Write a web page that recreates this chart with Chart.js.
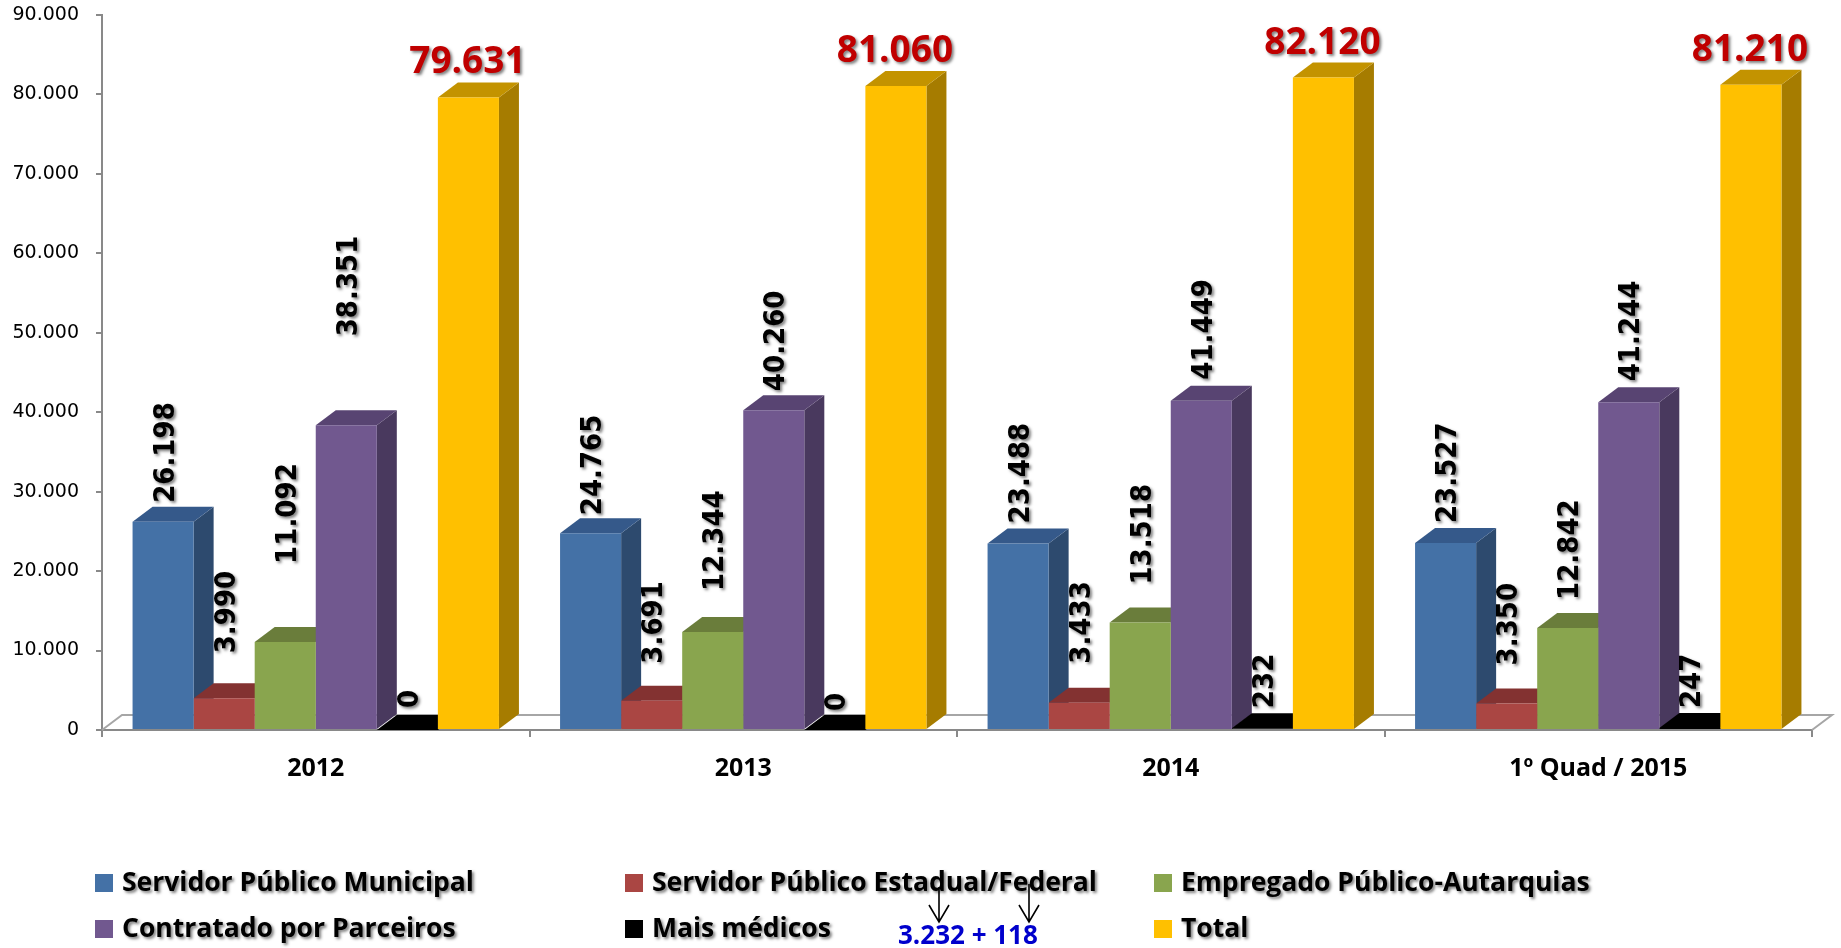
<!DOCTYPE html>
<html>
<head>
<meta charset="utf-8">
<script src="https://cdn.jsdelivr.net/npm/chart.js@4.4.1/dist/chart.umd.min.js"></script>
<style>
  body { margin: 0; background: #fff; }
  #wrap { position: relative; width: 1841px; height: 948px; overflow: hidden; }
  .leg { position: absolute; font: bold 26.5px "Open Sans", sans-serif; color: #000;
         text-shadow: 2px 2px 3px rgba(0,0,0,0.5); white-space: nowrap; line-height: 30px; }
  .leg i { display: inline-block; width: 18px; height: 18px; margin-right: 9px; vertical-align: -1px; }
  .note { position: absolute; left: 898px; top: 916px; font: bold 26px "Open Sans", sans-serif;
          color: #0000cc; white-space: nowrap; }
</style>
</head>
<body>
<div id="wrap">
  <canvas id="chart" width="1841" height="948"></canvas>
  <div id="legend"></div>
  <svg style="position:absolute;left:0;top:0" width="1841" height="948">
    <g stroke="#000" stroke-width="1.6" fill="none">
      <path d="M939 887 V922 M929 905 L939 922 L949 905"/>
      <path d="M1029 884 V922 M1019 905 L1029 922 L1039 905"/>
    </g>
  </svg>
  <div class="note">3.232 + 118</div>
</div>
<script>
const categories = ["2012", "2013", "2014", "1º Quad / 2015"];
const seriesNames = ["Servidor Público Municipal", "Servidor Público Estadual/Federal",
  "Empregado Público-Autarquias", "Contratado por Parceiros", "Mais médicos", "Total"];

const municipal = [26198, 24765, 23488, 23527];
const estadualFederal = [3990, 3691, 3433, 3350];
const autarquias = [11092, 12344, 13518, 12842];
const parceiros = [38351, 40260, 41449, 41244];
const maisMedicos = [0, 0, 232, 247];
const total = [79631, 81060, 82120, 81210];

const yMin = 0, yMax = 90000, yStep = 10000;

// colours: front, top, side
const fronts = ["#4471a6", "#aa4643", "#89a54e", "#71588f", "#000000", "#ffc000"];
const tops   = ["#35598a", "#833231", "#6a7d3b", "#584472", "#000000", "#c39300"];
const sides  = ["#2d4a6e", "#7a2e2c", "#5e7235", "#49395e", "#000000", "#a67c00"];

// extra lift of the rotated labels above each bar (px), as in the original slide
const labelGap = [
  [2, 1, 3, 3],
  [28, 20, 22, 21],
  [61, 24, 21, 11],
  [72, 2, 4, 4],
  [5, 2, 3, 3]
];

const DX = 20, DY = 15;

function fmt(v) {
  return String(v).replace(/\B(?=(\d{3})+(?!\d))/g, ".");
}

function poly(ctx, pts, color) {
  ctx.fillStyle = color;
  ctx.beginPath();
  ctx.moveTo(pts[0][0], pts[0][1]);
  for (let i = 1; i < pts.length; i++) ctx.lineTo(pts[i][0], pts[i][1]);
  ctx.closePath();
  ctx.fill();
}

const bars3d = {
  id: "bars3d",
  beforeDatasetsDraw(chart) {
    const ctx = chart.ctx;
    const a = chart.chartArea;
    const y0 = chart.scales.y.getPixelForValue(0);
    ctx.save();
    // floor outline
    ctx.strokeStyle = "#a6a6a6";
    ctx.lineWidth = 2;
    ctx.beginPath();
    ctx.moveTo(a.left, y0);
    ctx.lineTo(a.left + DX, y0 - DY);
    ctx.lineTo(a.right + DX, y0 - DY);
    ctx.lineTo(a.right, y0);
    ctx.stroke();
    for (let c = 0; c < categories.length; c++) {
      chart.data.datasets.forEach((ds, d) => {
        const bar = chart.getDatasetMeta(d).data[c];
        const p = bar.getProps(["x", "y", "base", "width"], true);
        const l = p.x - p.width / 2, r = p.x + p.width / 2;
        poly(ctx, [[r, p.y], [r + DX, p.y - DY], [r + DX, p.base - DY], [r, p.base]], sides[d]);
        poly(ctx, [[l, p.y], [r, p.y], [r + DX, p.y - DY], [l + DX, p.y - DY]], tops[d]);
      });
    }
    ctx.restore();
  },
  afterDatasetsDraw(chart) {
    const ctx = chart.ctx;
    ctx.save();
    ctx.shadowColor = "rgba(0,0,0,0.5)";
    ctx.shadowOffsetX = 2;
    ctx.shadowOffsetY = 2;
    ctx.shadowBlur = 3;
    chart.data.datasets.forEach((ds, d) => {
      chart.getDatasetMeta(d).data.forEach((bar, c) => {
        const p = bar.getProps(["x", "y"], true);
        const topY = p.y - DY;
        if (d === 5) {
          ctx.font = 'bold 37px "Open Sans", sans-serif';
          ctx.fillStyle = "#c00000";
          ctx.textAlign = "center";
          ctx.textBaseline = "alphabetic";
          ctx.fillText(fmt(ds.data[c]), p.x - 1, topY - 9);
        } else {
          ctx.save();
          ctx.translate(p.x + 3, topY - 2 - labelGap[d][c]);
          ctx.rotate(-Math.PI / 2);
          ctx.font = 'bold 29px "DejaVu Sans Condensed", "DejaVu Sans", sans-serif';
          ctx.fillStyle = "#000";
          ctx.textAlign = "left";
          ctx.textBaseline = "middle";
          ctx.fillText(fmt(ds.data[c]), 0, 0);
          ctx.restore();
        }
      });
    });
    ctx.restore();
  }
};

const seriesValues = [municipal, estadualFederal, autarquias, parceiros, maisMedicos, total];

const chart = new Chart(document.getElementById("chart"), {
  type: "bar",
  data: {
    labels: categories,
    datasets: seriesNames.map((name, i) => ({
      label: name,
      data: seriesValues[i],
      backgroundColor: fronts[i],
      borderWidth: 0,
      categoryPercentage: 0.857,
      barPercentage: 1.0
    }))
  },
  options: {
    responsive: false,
    animation: false,
    devicePixelRatio: 1,
    layout: { padding: { top: 15, right: 29, left: 0, bottom: 0 } },
    plugins: { legend: { display: false }, tooltip: { enabled: false } },
    scales: {
      x: {
        afterFit: s => { s.height = 218; },
        grid: { offset: true, drawOnChartArea: false, tickLength: 7, color: "#898989", lineWidth: 2 },
        border: { display: true, color: "#898989", width: 2 },
        ticks: { padding: 17, color: "#000", font: { family: "Open Sans", size: 25, weight: "bold" } }
      },
      y: {
        min: yMin, max: yMax,
        afterFit: s => { s.width = 102; s.paddingTop = 0; s.paddingBottom = 0; },
        grid: { drawOnChartArea: false, tickLength: 6, color: "#898989", lineWidth: 2 },
        border: { display: true, color: "#898989", width: 2 },
        ticks: {
          stepSize: yStep, padding: 17, color: "#000",
          font: { family: "DejaVu Sans", size: 19 },
          callback: v => fmt(v)
        }
      }
    }
  },
  plugins: [bars3d]
});

// legend in three columns, two rows
const legendX = [95, 625, 1154];
const legendY = [866, 912];
const legend = document.getElementById("legend");
seriesNames.forEach((name, i) => {
  const el = document.createElement("div");
  el.className = "leg";
  el.style.left = legendX[i % 3] + "px";
  el.style.top = legendY[Math.floor(i / 3)] + "px";
  el.innerHTML = '<i style="background:' + fronts[i] + '"></i>' + name;
  legend.appendChild(el);
});
</script>
</body>
</html>
